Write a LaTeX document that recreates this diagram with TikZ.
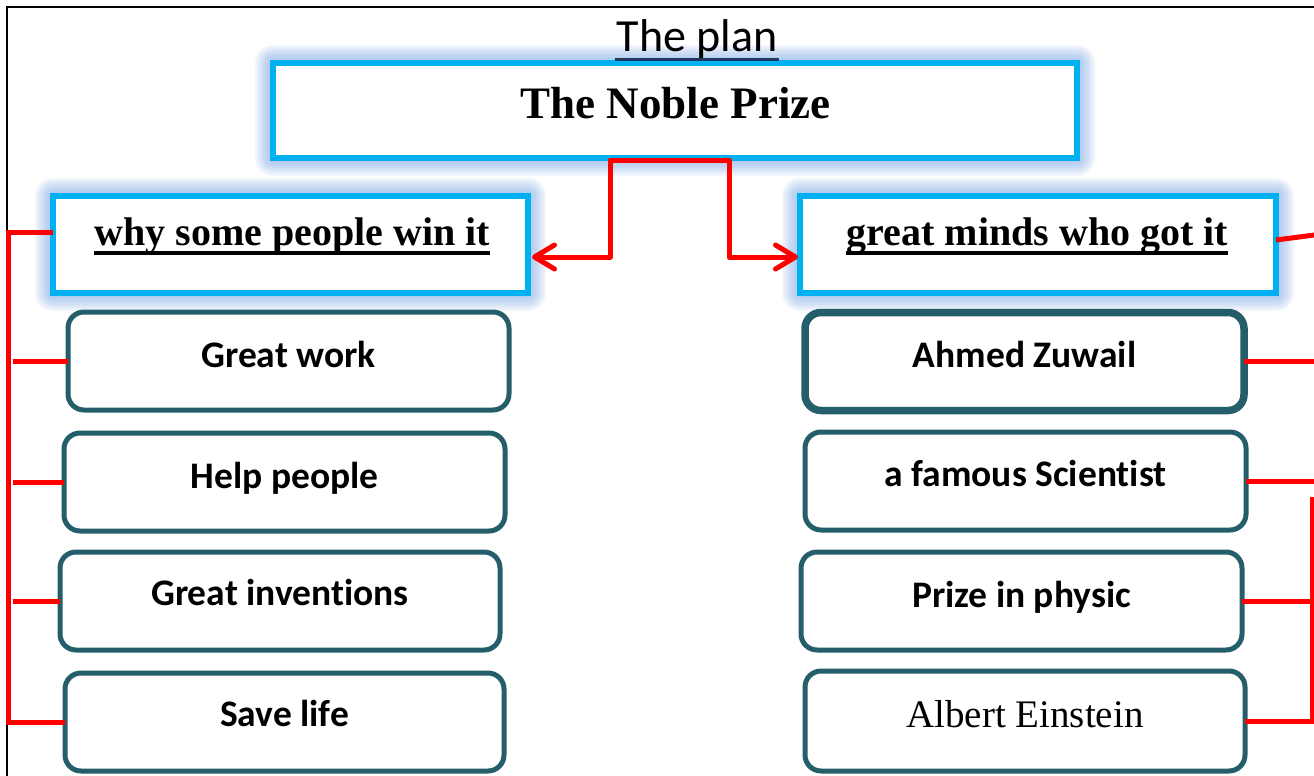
\documentclass[tikz,border=0pt]{standalone}
\usepackage{fontspec}
\setmainfont{Liberation Serif}
\newfontfamily\carlito[Ligatures=NoCommon]{Carlito}
\usetikzlibrary{arrows.meta,calc,backgrounds}
\definecolor{cyanb}{HTML}{00B0F0}
\definecolor{glowc}{RGB}{130,172,232}
\definecolor{tealb}{RGB}{37,94,107}
\definecolor{redl}{HTML}{FF0000}
\definecolor{navyl}{HTML}{1F3864}
\begin{document}
\begin{tikzpicture}[x=1pt,y=-1pt,
  hdr/.style={draw=cyanb, line width=5.5pt, fill=white, inner sep=0pt, outer sep=0pt},
  itembox/.style={draw=tealb, line width=5pt, rounded corners=16pt, fill=white, inner sep=0pt, outer sep=0pt, minimum width=441pt, minimum height=98pt},
  itemtxt/.style={anchor=base, inner sep=0pt, font=\carlito\bfseries\fontsize{37.5}{42}\selectfont},
  hdrtxt/.style={anchor=base, inner sep=0pt, font=\bfseries\fontsize{40}{44}\selectfont},
  redline/.style={draw=redl, line width=5pt},
  glowring/.style={draw=glowc, line join=round, opacity=0.1},
]
\useasboundingbox (0,0) rectangle (1314,776);
% frame
\draw[line width=2.5pt] (1330,7) -- (7,7) -- (7,800);

% header boxes
\node[hdr, minimum width=804pt, minimum height=95pt] (title) at (675,110.5) {};
\node[hdr, minimum width=475pt, minimum height=97pt] (h1) at (290.5,244.5) {};
\node[hdr, minimum width=476pt, minimum height=97pt] (h2) at (1038,244.5) {};

\begin{pgfonlayer}{background}
\fill[white] (0,0) rectangle (1314,776);
\foreach \n in {title,h1,h2}{
  \foreach \w in {36,32,28,24,20,16,12,8}{
    \draw[glowring, line width=\w pt] (\n.south west) rectangle (\n.north east);
  }
}
\end{pgfonlayer}

% texts of headers
\node[anchor=base, inner sep=0pt, font=\carlito\fontsize{46}{50}\selectfont] (plan) at (697,52) {The plan};
\draw[navyl, line width=3pt] ($(plan.base west)+(-1,8)$) -- ($(plan.base east)+(1,8)$);
\node[anchor=base, inner sep=0pt, font=\bfseries\fontsize{45}{50}\selectfont] (titletxt) at (675.5,118) {The Noble Prize};
\node[hdrtxt] (h1txt) at (292.5,245) {why some people win it};
\draw[line width=3.5pt] ($(h1txt.base west)+(-1,8)$) -- ($(h1txt.base east)+(0,8)$);
\node[hdrtxt] (h2txt) at (1037.5,245) {great minds who got it};
\draw[line width=3.5pt] ($(h2txt.base west)+(-1,8)$) -- ($(h2txt.base east)+(0,8)$);

% item boxes left
\node[itembox, minimum width=441pt] (L1) at (288.5,361) {};
\node[itembox] (L2) at (284.5,482) {};
\node[itembox, minimum width=440pt] (L3) at (280,601) {};
\node[itembox, minimum width=439pt] (L4) at (284.5,722) {};
% item boxes right
\node[itembox, line width=7.5pt, minimum width=439pt] (R1) at (1024.5,361.5) {};
\node[itembox] (R2) at (1025.5,481) {};
\node[itembox] (R3) at (1021.5,601) {};
\node[itembox, minimum width=440pt, minimum height=100pt] (R4) at (1025,721) {};

\node[itemtxt] (t1) at ($(L1.center)+(0,6)$) {Great work};
\node[itemtxt] (t2) at ($(L2.center)+(0,6)$) {Help people};
\node[itemtxt] (t3) at ($(L3.center)+(0,4)$) {Great inventions};
\node[itemtxt] (t4) at ($(L4.center)+(0,4)$) {Save life};
\node[itemtxt] (t5) at ($(R1.center)+(0,6)$) {Ahmed Zuwail};
\node[itemtxt] (t6) at ($(R2.center)+(0,5)$) {a famous Scientist};
\node[itemtxt] (t7) at ($(R3.center)+(0,6)$) {Prize in physic};
\node[anchor=base, inner sep=0pt, font=\fontsize{39}{42}\selectfont] (t8) at ($(R4.center)+(0,6)$) {Albert Einstein};

% central connector with arrows
\coordinate (jl) at (610,257);
\coordinate (jt1) at (610,160);
\coordinate (jt2) at (729,160);
\coordinate (jr) at (729,257);
\draw[redline, line join=round, line cap=round,
  {Straight Barb[length=20pt,width=24pt,line width=5pt,round]}-{Straight Barb[length=20pt,width=24pt,line width=5pt,round]}]
  ($(h1.east |- jl)+(4,0)$) -- (jl) -- (jt1) -- (jt2) -- (jr) -- ($(h2.west |- jr)+(-2,0)$);

% left bracket
\coordinate (lt) at (8,232);
\coordinate (lb) at (13,0);
\draw[redline] (h1.west |- lt) -- (lt) -- (lt |- L4.west) -- (L4.west);
\draw[redline] (lb |- L1.west) -- (L1.west);
\draw[redline] (lb |- L2.west) -- (L2.west);
\draw[redline] (lb |- L3.west) -- (L3.west);

% right side
\coordinate (hy) at (0,240);
\coordinate (hr) at (1322,234);
\coordinate (rout) at (1322,0);
\coordinate (rv) at (1312,497);
\draw[redline] (h2.east |- hy) -- (hr);
\draw[redline] (R1.east) -- (rout |- R1.east);
\draw[redline] (R2.east) -- (rout |- R2.east);
\draw[redline] (rv) -- (rv |- R4.east) -- (R4.east);
\draw[redline] (R3.east) -- (rv |- R3.east);
\end{tikzpicture}
\end{document}
